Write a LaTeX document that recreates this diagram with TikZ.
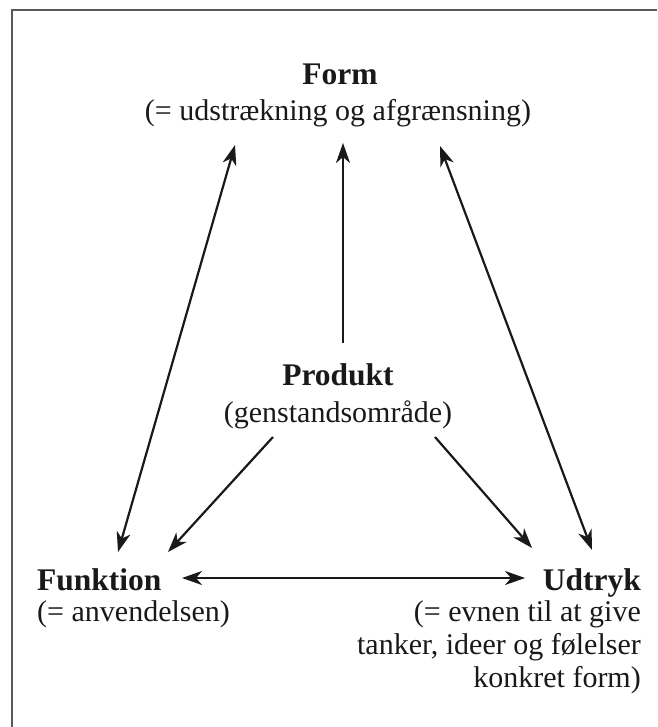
\documentclass[tikz,border=0pt]{standalone}
\usepackage{fontspec}
\setmainfont{Liberation Serif}
\usetikzlibrary{arrows.meta}
\tikzset{
  titletext/.style={inner sep=0pt, anchor=base, font=\fontsize{31.5}{33}\selectfont\bfseries, text=black!90},
  subtext/.style={inner sep=0pt, anchor=base, font=\fontsize{30}{33}\selectfont, text=black!90},
  conn/.style={line width=2.2pt, black!90, -{Stealth[length=20pt,width=14pt,inset=6pt]}},
  dconn/.style={line width=2.2pt, black!90, {Stealth[length=20pt,width=14pt,inset=6pt]}-{Stealth[length=20pt,width=14pt,inset=6pt]}},
  frameline/.style={line width=2pt, black!65}
}
\begin{document}
\begin{tikzpicture}[x=1pt,y=-1pt]
\useasboundingbox (0,0) rectangle (657,727);
\draw[frameline] (12,727) -- (12,10) -- (657,10);

\node[titletext] (form) at (340,85) {Form};
\node[subtext] (formsub) at (338,121) {(= udstrækning og afgrænsning)};
\node[titletext] (produkt) at (338,385) {Produkt};
\node[subtext] (produktsub) at (338,422) {(genstandsområde)};
\node[titletext, anchor=base west] (funktion) at (37,590) {Funktion};
\node[subtext, anchor=base west] (funktionsub) at (37,621) {(= anvendelsen)};
\node[titletext, anchor=base east] (udtryk) at (641,590) {Udtryk};
\node[subtext, anchor=base east] (udtryksubA) at (641,621) {(= evnen til at give};
\node[subtext, anchor=base east] (udtryksubB) at (641,654) {tanker, ideer og følelser};
\node[subtext, anchor=base east] (udtryksubC) at (641,687) {konkret form)};

\coordinate (formL) at (235,145);
\coordinate (formM) at (343,143);
\coordinate (formR) at (440,146);
\coordinate (prodTop) at (343,343);
\coordinate (prodL) at (273,437);
\coordinate (prodR) at (435,437);
\coordinate (funkTop) at (118,552);
\coordinate (funkR) at (168,552);
\coordinate (udtL) at (532,548);
\coordinate (udtTop) at (592,550);
\coordinate (funkE) at (182,578);
\coordinate (udtW) at (525,578);

\draw[dconn] (formL) -- (funkTop);
\draw[dconn] (formR) -- (udtTop);
\draw[conn] (prodTop) -- (formM);
\draw[conn] (prodL) -- (funkR);
\draw[conn] (prodR) -- (udtL);
\draw[dconn] (funkE) -- (udtW);
\end{tikzpicture}
\end{document}
